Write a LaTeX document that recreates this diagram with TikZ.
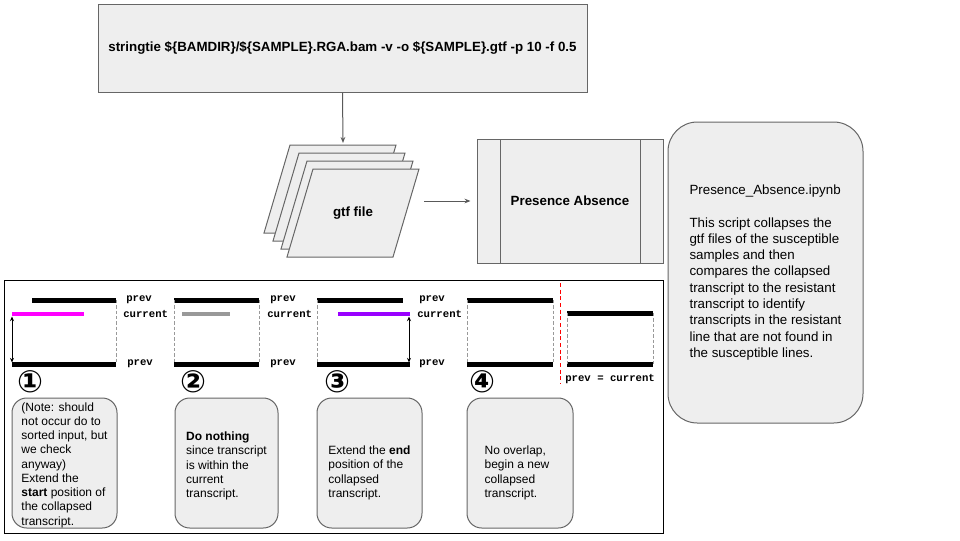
\documentclass[tikz,border=0pt]{standalone}
\usepackage{fontspec}
\setmainfont{Liberation Sans}
\newfontfamily\codefont{Liberation Mono}
\newfontfamily\circfont{DejaVu Sans}
\usetikzlibrary{arrows.meta}
\definecolor{boxfill}{HTML}{EEEEEE}
\definecolor{boxline}{HTML}{666666}
\definecolor{arrowgray}{HTML}{595959}
\definecolor{magentabar}{HTML}{FF00FF}
\definecolor{graybar}{HTML}{999999}
\definecolor{purplebar}{HTML}{9900FF}
\definecolor{guide}{HTML}{999999}
\begin{document}
\begin{tikzpicture}[x=0.75pt,y=-0.75pt,
  flowbox/.style={draw=boxline, fill=boxfill, line width=0.75pt, inner sep=0pt, font=\fontsize{10}{12}\selectfont\bfseries},
  notebox/.style={draw=boxline, fill=boxfill, line width=0.75pt, rounded corners=11pt, inner sep=0pt},
  notetext/.style={align=left, inner sep=0pt, font=\fontsize{9}{10.7}\selectfont},
  sheet/.style={draw=boxline, fill=boxfill, line width=0.75pt},
  flowarrow/.style={draw=arrowgray, line width=0.75pt, -{Stealth[length=4.5pt,width=3.5pt]}},
  bar/.style={line width=3.6pt, line cap=butt},
  guideline/.style={draw=guide, line width=0.6pt, dash pattern=on 2.5pt off 1.5pt},
  spanarrow/.style={line width=0.75pt, {Stealth[length=3.5pt,width=3pt]}-{Stealth[length=3.5pt,width=3pt]}},
  code/.style={anchor=west, inner sep=0pt, font=\fontsize{8}{9}\codefont\bfseries},
  circnum/.style={inner sep=0pt, font=\fontsize{23}{23}\circfont\bfseries},
]
\useasboundingbox (0,0) rectangle (960,540);

% top command box
\node[flowbox, minimum width=366.75pt, minimum height=66pt] (cmd) at (342.5,48)
  {stringtie \$\{BAMDIR\}/\$\{SAMPLE\}.RGA.bam -v -o \$\{SAMPLE\}.gtf -p 10 -f 0.5};

% stacked gtf sheets
\path[sheet] (290,145) -- (396,145) -- (370,233) -- (264,233) -- cycle;
\path[sheet] (299,153) -- (405,153) -- (379,241) -- (273,241) -- cycle;
\path[sheet] (307,161) -- (413,161) -- (387,249) -- (281,249) -- cycle;
\path[sheet] (313,169) -- (419,169) -- (393,257) -- (287,257) -- cycle;
\node[inner sep=0pt, font=\fontsize{10}{12}\selectfont\bfseries] (gtf) at (353,213) {gtf file};
\coordinate (gtfin) at (343,143);
\coordinate (gtfout) at (424,201);

% Presence Absence box
\node[flowbox, minimum width=139.5pt, minimum height=93pt] (pa) at (570,201) {Presence Absence};
\draw[boxline, line width=0.75pt] (500,139) -- (500,263) (640,139) -- (640,263);

% connectors
\draw[flowarrow] (cmd.south) -- (gtfin);
\draw[flowarrow, shorten >=4.5pt] (gtfout) -- (pa.west);

% description box
\node[notebox, rounded corners=22pt, minimum width=146.25pt, minimum height=225.75pt,
      align=left, font=\fontsize{10}{12.2}\selectfont] (desc) at (765.5,272.5)
  {Presence\_Absence.ipynb\\[12.2pt]
   This script collapses the\\
   gtf files of the susceptible\\
   samples and then\\
   compares the collapsed\\
   transcript to the resistant\\
   transcript to identify\\
   transcripts in the resistant\\
   line that are not found in\\
   the susceptible lines.};

% bottom frame
\draw[black, line width=0.75pt] (4,280) rectangle (663,533);

% panel 1
\draw[bar] (32,300.5) -- (116,300.5);
\draw[bar, magentabar] (12,314) -- (84,314);
\draw[bar] (12,364.5) -- (116,364.5);
\draw[guideline] (116,300) -- (116,364);
\coordinate (a1top) at (12,316.5);
\coordinate (a1bot) at (12,362.5);
\draw[spanarrow] (a1top) -- (a1bot);
\node[code] (p1a) at (126,300) {prev};
\node[code] (p1b) at (123,314) {current};
\node[code] (p1c) at (127,364) {prev};
\node[circnum] (n1) at (30,382) {①};

% panel 2
\draw[bar] (174,300.5) -- (259,300.5);
\draw[bar, graybar] (182,314) -- (230,314);
\draw[bar] (174,364.5) -- (259,364.5);
\draw[guideline] (174,300) -- (174,364) (259,300) -- (259,364);
\node[code] (p2a) at (270,300) {prev};
\node[code] (p2b) at (267,314) {current};
\node[code] (p2c) at (270,364) {prev};
\node[circnum] (n2) at (193,382) {②};

% panel 3
\draw[bar] (317,300.5) -- (403,300.5);
\draw[bar, purplebar] (338,314) -- (410,314);
\draw[bar] (317,364.5) -- (410,364.5);
\draw[guideline] (317,300) -- (317,364);
\coordinate (a3top) at (409,316.5);
\coordinate (a3bot) at (409,362.5);
\draw[spanarrow] (a3top) -- (a3bot);
\node[code] (p3a) at (419,300) {prev};
\node[code] (p3b) at (417,314) {current};
\node[code] (p3c) at (419,364) {prev};
\node[circnum] (n3) at (337,382) {③};

% panel 4
\draw[bar] (467,300.5) -- (553,300.5);
\draw[bar] (467,364.5) -- (553,364.5);
\draw[guideline] (467,300) -- (467,364) (553,300) -- (553,364);
\node[circnum] (n4) at (482,382) {④};
\draw[red, line width=0.75pt, dash pattern=on 3pt off 2pt] (560,283) -- (560,384);
\draw[bar] (567,313.5) -- (653,313.5);
\draw[bar] (567,364.5) -- (653,364.5);
\draw[guideline] (567,313) -- (567,364) (653,313) -- (653,364);
\node[code] (pc) at (565,379) {prev = current};

% note boxes
\node[notebox, minimum width=78.75pt, minimum height=97.5pt] (b1) at (64.5,463) {};
\node[notetext] (t1) at (64.5,465) {(Note: should\\not occur do to\\sorted input, but\\we check\\anyway)\\Extend the\\\textbf{start} position of\\the collapsed\\transcript.};
\node[notebox, minimum width=77.25pt, minimum height=97.5pt] (b2) at (226.5,463) {};
\node[notetext] (t2) at (226.5,466) {\textbf{Do nothing}\\since transcript\\is within the\\current\\transcript.};
\node[notebox, minimum width=78.75pt, minimum height=97.5pt] (b3) at (369.5,463) {};
\node[notetext] (t3) at (369.5,473) {Extend the \textbf{end}\\position of the\\collapsed\\transcript.};
\node[notebox, minimum width=79.5pt, minimum height=97.5pt] (b4) at (520,463) {};
\node[notetext] (t4) at (517,473) {No overlap,\\begin a new\\collapsed\\transcript.};
\end{tikzpicture}
\end{document}
